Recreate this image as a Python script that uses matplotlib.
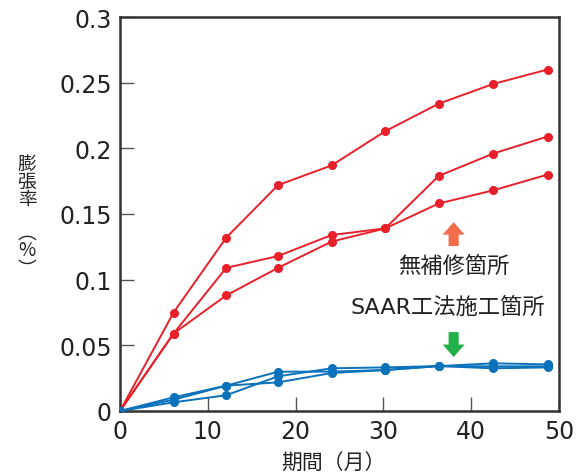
import matplotlib
matplotlib.use("Agg")
import matplotlib.pyplot as plt

plt.rcParams['font.family'] = ['DejaVu Sans', 'Noto Sans CJK JP']

# ==== データ ====
months = [0, 6.1, 12.1, 18.0, 24.1, 30.2, 36.3, 42.5, 48.7]

red_series = [
    [0, 0.075, 0.132, 0.172, 0.187, 0.213, 0.234, 0.249, 0.260],
    [0, 0.059, 0.109, 0.118, 0.134, 0.139, 0.179, 0.196, 0.209],
    [0, 0.059, 0.088, 0.109, 0.129, 0.139, 0.158, 0.168, 0.180],
]
blue_series = [
    [0, 0.0104, 0.0193, 0.0299, 0.0300, 0.0312, 0.0342, 0.0363, 0.0355],
    [0, 0.0086, 0.0193, 0.0218, 0.0289, 0.0312, 0.0342, 0.0325, 0.0332],
    [0, 0.0066, 0.0120, 0.0264, 0.0325, 0.0332, 0.0342, 0.0340, 0.0340],
]

x_ticks = [0, 10, 20, 30, 40, 50]
y_ticks = [0, 0.05, 0.1, 0.15, 0.2, 0.25, 0.3]
y_ticklabels = ["0", "0.05", "0.1", "0.15", "0.2", "0.25", "0.3"]

red = "#e8202a"
blue = "#0a72ba"
txt = "#222222"

fig = plt.figure(figsize=(5.81, 4.77), dpi=100)
ax = fig.add_axes([120 / 581, 1 - 412 / 477, 439 / 581, 394 / 477])

for ys in red_series:
    ax.plot(months, ys, '-o', color=red, lw=1.4, ms=5.5, zorder=3)
for ys in blue_series:
    ax.plot(months, ys, '-o', color=blue, lw=1.4, ms=5.5, zorder=3)

ax.set_xlim(0, 50)
ax.set_ylim(0, 0.3)
ax.set_xticks(x_ticks)
ax.set_yticks(y_ticks)
ax.set_yticklabels(y_ticklabels)
ax.tick_params(direction='in', length=10, width=1, labelsize=17, color='#555555',
               labelcolor=txt, pad=6)
for s in ax.spines.values():
    s.set_linewidth(1.8)
    s.set_color('#333333')

# 矢印と注記
ax.arrow(38.0, 0.1256, 0, 0.0182, width=1.15, head_width=2.5, head_length=0.0095,
         length_includes_head=True, color='#f26b4a', lw=0)
ax.arrow(38.0, 0.0601, 0, -0.019, width=1.15, head_width=2.5, head_length=0.0095,
         length_includes_head=True, color='#22b04b', lw=0)
ax.text(38.0, 0.1105, "無補修箇所", ha='center', va='center', fontsize=16,
        family=['Noto Sans CJK JP'], color=txt)
ax.text(37.3, 0.0795, "SAAR工法施工箇所", ha='center', va='center', fontsize=16,
        family=['DejaVu Sans', 'Noto Sans CJK JP'], color=txt)

# 軸ラベル
fig.text(333 / 581, 1 - 464 / 477, "期間（月）", ha='center', va='center', fontsize=15,
         family=['Noto Sans CJK JP'], color=txt)
fig.text(27 / 581, 1 - 182 / 477, "膨\n張\n率", ha='center', va='center', fontsize=13.5,
         linespacing=0.8, family=['Noto Sans CJK JP'], color=txt)
fig.text(27 / 581, 1 - 251 / 477, "︵\n%\n︶", ha='center', va='center', fontsize=13.5,
         linespacing=0.8, family=['Noto Sans CJK JP', 'DejaVu Sans'], color=txt)

fig.savefig("out.png", dpi=100)
